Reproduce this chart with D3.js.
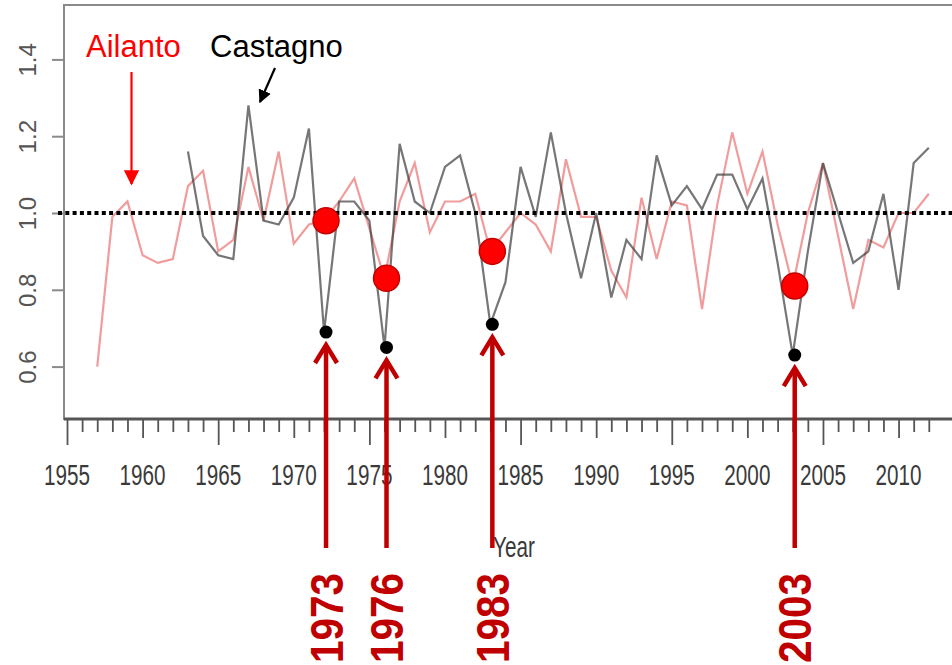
<!DOCTYPE html>
<html lang="it">
<head>
  <meta charset="UTF-8">
  <title>Ailanto e Castagno</title>
  <script src="https://d3js.org/d3.v7.min.js"></script>
  <style>
    body { margin: 0; padding: 0; background: #fff; }
    svg { display: block; font-family: "Liberation Sans", Arial, sans-serif; }
  </style>
</head>
<body>
  <div id="chart"></div>
  <script>
    // years and indices
    const ailantoYears = d3.range(1957, 2013);
    const ailanto = [
      0.60, 0.99, 1.03, 0.89, 0.87, 0.88, 1.07, 1.11, 0.90, 0.93,
      1.12, 0.98, 1.16, 0.92, 0.97, 0.98, 1.03, 1.09, 0.96, 0.83,
      1.03, 1.13, 0.95, 1.03, 1.03, 1.05, 0.90, 0.95, 1.00, 0.97,
      0.90, 1.14, 0.99, 0.99, 0.85, 0.78, 1.04, 0.88, 1.03, 1.02,
      0.75, 1.02, 1.21, 1.05, 1.16, 0.97, 0.81, 1.00, 1.13, 0.94,
      0.75, 0.93, 0.91, 1.00, 1.00, 1.05
    ];
    const castagnoYears = d3.range(1963, 2013);
    const castagno = [
      1.16, 0.94, 0.89, 0.88, 1.28, 0.98, 0.97, 1.04, 1.22, 0.69,
      1.03, 1.03, 0.98, 0.65, 1.18, 1.03, 1.00, 1.12, 1.15, 1.00,
      0.71, 0.82, 1.12, 0.99, 1.21, 1.00, 0.83, 1.00, 0.78, 0.93,
      0.88, 1.15, 1.02, 1.07, 1.01, 1.10, 1.10, 1.01, 1.09, 0.87,
      0.63, 0.90, 1.13, 1.00, 0.87, 0.90, 1.05, 0.80, 1.13, 1.17
    ];
    // highlighted drought years
    const dipYears = [1972, 1976, 1983, 2003];
    const dipAilanto = [0.98, 0.83, 0.90, 0.81];
    const dipCastagno = [0.69, 0.65, 0.71, 0.63];
    const dipLabels = ["1973", "1976", "1983", "2003"];

    const yTicks = [0.6, 0.8, 1.0, 1.2, 1.4];
    const xLabelTicks = d3.range(1955, 2011, 5);

    const width = 952, height = 665;
    const x = d3.scaleLinear().domain([1955, 2012]).range([67, 928.8]);
    const y = d3.scaleLinear().domain([0.6, 1.4]).range([366.6, 59.4]);

    const svg = d3.select("#chart").append("svg")
      .attr("width", width)
      .attr("height", height);

    // frame
    svg.append("rect")
      .attr("x", 64).attr("y", 5)
      .attr("width", 960).attr("height", 414)
      .attr("fill", "none")
      .attr("stroke", "#8a8a8a")
      .attr("stroke-width", 2);

    // y axis
    const yAxis = svg.append("g")
      .attr("transform", "translate(64,0)")
      .call(d3.axisLeft(y).tickValues(yTicks).tickSize(12).tickFormat(d3.format(".1f")));
    yAxis.select(".domain").remove();
    yAxis.selectAll(".tick line").attr("stroke", "#8a8a8a").attr("stroke-width", 2);
    yAxis.selectAll(".tick text")
      .attr("x", null).attr("dy", null)
      .attr("text-anchor", "middle")
      .attr("transform", "translate(-37,0) rotate(-90)")
      .attr("dy", "0.36em")
      .attr("fill", "#555")
      .style("font-size", "24px");

    // x axis
    const xAxis = svg.append("g")
      .attr("transform", "translate(0,419)")
      .call(d3.axisBottom(x).tickValues(d3.range(1955, 2013)).tickSize(13).tickFormat(""));
    xAxis.select(".domain")
      .attr("d", "M64,0H952")
      .attr("stroke", "#555")
      .attr("stroke-width", 3);
    xAxis.selectAll(".tick line")
      .attr("stroke", "#555")
      .attr("stroke-width", 1.8)
      .attr("y2", d => d % 10 === 5 ? 26 : d % 10 === 0 ? 19 : 13);

    svg.append("g")
      .selectAll("text")
      .data(xLabelTicks)
      .join("text")
      .attr("transform", d => `translate(${x(d)},485) scale(0.69,1)`)
      .attr("text-anchor", "middle")
      .attr("fill", "#3a3a3a")
      .style("font-size", "30px")
      .text(d => d);

    svg.append("text")
      .attr("transform", "translate(514,557) scale(0.69,1)")
      .attr("text-anchor", "middle")
      .attr("fill", "#3a3a3a")
      .style("font-size", "30px")
      .text("Year");

    // series
    const line = d3.line().x(d => x(d[0])).y(d => y(d[1]));
    svg.append("path")
      .datum(d3.zip(ailantoYears, ailanto))
      .attr("d", line)
      .attr("fill", "none")
      .attr("stroke", "rgba(232,90,90,0.6)")
      .attr("stroke-width", 2.2);
    svg.append("path")
      .datum(d3.zip(castagnoYears, castagno))
      .attr("d", line)
      .attr("fill", "none")
      .attr("stroke", "rgba(60,60,60,0.7)")
      .attr("stroke-width", 2.2);

    // reference line at 1.0
    svg.append("line")
      .attr("x1", 58).attr("x2", 952)
      .attr("y1", y(1)).attr("y2", y(1))
      .attr("stroke", "#000")
      .attr("stroke-width", 4)
      .attr("stroke-dasharray", "4,3.3");

    // markers
    svg.append("g")
      .selectAll("circle")
      .data(d3.zip(dipYears, dipAilanto))
      .join("circle")
      .attr("cx", d => x(d[0]) + 2)
      .attr("cy", d => y(d[1]))
      .attr("r", 13)
      .attr("fill", "#ff0000")
      .attr("stroke", "#c40000")
      .attr("stroke-width", 1.5);
    svg.append("g")
      .selectAll("circle")
      .data(d3.zip(dipYears, dipCastagno))
      .join("circle")
      .attr("cx", d => x(d[0]) + 2)
      .attr("cy", d => y(d[1]))
      .attr("r", 6.5)
      .attr("fill", "#000");

    // dark red arrows and year labels
    const arrows = svg.append("g")
      .selectAll("g")
      .data(d3.zip(dipYears, dipCastagno, dipLabels))
      .join("g")
      .attr("transform", d => `translate(${x(d[0]) + 2},0)`);
    arrows.append("line")
      .attr("x1", 0).attr("x2", 0)
      .attr("y1", 548)
      .attr("y2", d => y(d[1]) + 14)
      .attr("stroke", "#c00000")
      .attr("stroke-width", 4.5);
    arrows.append("path")
      .attr("d", d => {
        const t = y(d[1]) + 13;
        return `M-11,${t + 18}L0,${t}L11,${t + 18}`;
      })
      .attr("fill", "none")
      .attr("stroke", "#c00000")
      .attr("stroke-width", 4.5)
      .attr("stroke-linejoin", "miter");
    arrows.append("text")
      .attr("transform", "translate(0,663) rotate(-90) scale(0.88,1)")
      .attr("dy", "0.36em")
      .attr("fill", "#c00000")
      .style("font-size", "46px")
      .style("font-weight", "bold")
      .text(d => d[2]);

    // species labels
    svg.append("text")
      .attr("x", 86).attr("y", 57)
      .attr("fill", "#ff0000")
      .style("font-size", "31px")
      .text("Ailanto");
    svg.append("text")
      .attr("x", 210).attr("y", 57)
      .attr("fill", "#000")
      .style("font-size", "31px")
      .text("Castagno");

    // pointer arrows
    const defs = svg.append("defs");
    defs.append("marker")
      .attr("id", "headRed")
      .attr("viewBox", "0 0 10 10")
      .attr("refX", 9).attr("refY", 5)
      .attr("markerWidth", 7).attr("markerHeight", 7)
      .attr("markerUnits", "strokeWidth")
      .attr("orient", "auto")
      .append("path").attr("d", "M0,0L10,5L0,10Z").attr("fill", "#ff0000");
    defs.append("marker")
      .attr("id", "headBlack")
      .attr("viewBox", "0 0 10 10")
      .attr("refX", 9).attr("refY", 5)
      .attr("markerWidth", 6).attr("markerHeight", 6)
      .attr("markerUnits", "strokeWidth")
      .attr("orient", "auto")
      .append("path").attr("d", "M0,0L10,5L0,10Z").attr("fill", "#000");

    svg.append("line")
      .attr("x1", 131.5).attr("y1", 72)
      .attr("x2", 131.5).attr("y2", 184)
      .attr("stroke", "#ff0000")
      .attr("stroke-width", 2.2)
      .attr("marker-end", "url(#headRed)");
    svg.append("line")
      .attr("x1", 275).attr("y1", 68)
      .attr("x2", 260).attr("y2", 102)
      .attr("stroke", "#000")
      .attr("stroke-width", 2.2)
      .attr("marker-end", "url(#headBlack)");
  </script>
</body>
</html>
